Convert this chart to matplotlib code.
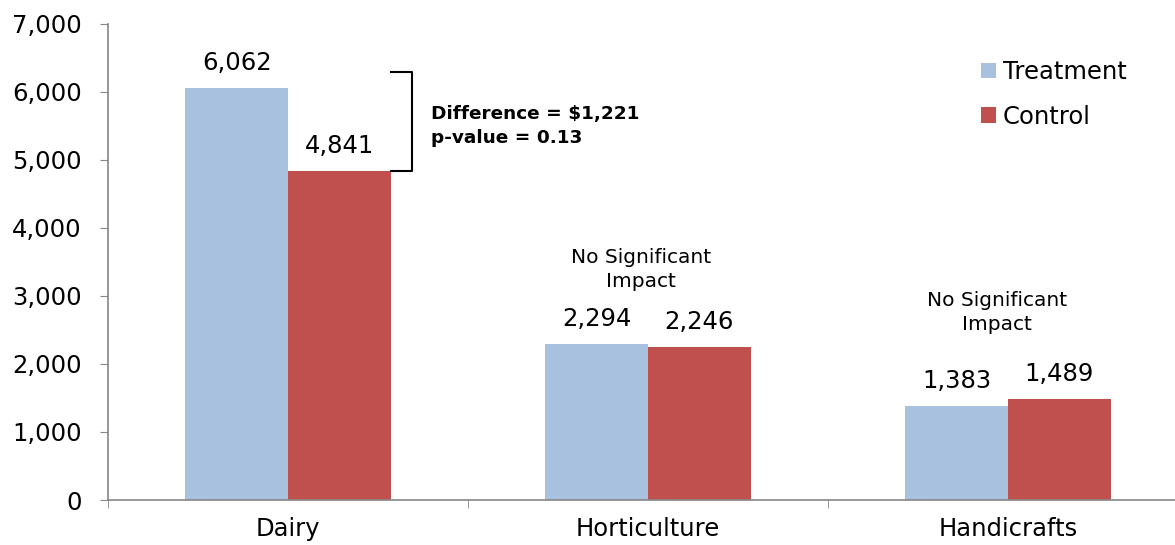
import matplotlib.pyplot as plt
import numpy as np

categories = ["Dairy", "Horticulture", "Handicrafts"]
treatment = [6062, 2294, 1383]
control = [4841, 2246, 1489]
series_names = ["Treatment", "Control"]
y_ticks = [0, 1000, 2000, 3000, 4000, 5000, 6000, 7000]

blue = "#A8C1DE"
red = "#C0504D"
grey = "#868686"

plt.rcParams['font.family'] = ['DejaVu Sans']

fig = plt.figure(figsize=(11.75, 5.45), dpi=100)
ax = fig.add_axes([108 / 1175, 45 / 545, 1080 / 1175, 476 / 545])

x = np.arange(len(categories))
w = 0.285
b1 = ax.bar(x - w / 2, treatment, w, color=blue, label=series_names[0])
b2 = ax.bar(x + w / 2, control, w, color=red, label=series_names[1])

ax.set_xlim(-0.5, 2.5)
ax.set_ylim(0, 7000)
ax.set_yticks(y_ticks)
ax.set_yticklabels([f"{v:,}" for v in y_ticks], fontsize=17.5)
ax.set_xticks(x)
ax.set_xticklabels(categories, fontsize=17.5)
ax.set_xticks(np.arange(-0.5, 3, 1), minor=True)
ax.tick_params(axis='x', which='major', length=0, pad=12)
ax.tick_params(axis='x', which='minor', length=6, color=grey, direction='out')
ax.tick_params(axis='y', length=6, color=grey, direction='out', pad=13)

for s in ["top", "right"]:
    ax.spines[s].set_visible(False)
for s in ["left", "bottom"]:
    ax.spines[s].set_color(grey)
    ax.spines[s].set_linewidth(1.2)

# value labels above bars
for bars, vals in ((b1, treatment), (b2, control)):
    for rect, v in zip(bars, vals):
        ax.text(rect.get_x() + rect.get_width() / 2, v + 370, f"{v:,}",
                ha='center', va='center', fontsize=17.5)

# bracket for dairy difference
bx0 = x[0] + w
bx1 = bx0 + 0.06
ax.plot([bx0, bx1, bx1, bx0], [6290, 6290, control[0], control[0]],
        color='black', lw=1.5, clip_on=False)
ax.text(bx1 + 0.053, 5500, "Difference = $1,221\np-value = 0.13",
        fontsize=13.3, fontweight='bold', ha='left', va='center',
        linespacing=1.4)

ax.text(x[1] - 0.02, 3390, "No Significant\nImpact", fontsize=14.5,
        ha='center', va='center', linespacing=1.35)
ax.text(x[2] - 0.03, 2755, "No Significant\nImpact", fontsize=14.5,
        ha='center', va='center', linespacing=1.35)

ax.legend(loc='center left', bbox_to_anchor=(0.808, 0.852), frameon=False,
          fontsize=17.5, handlelength=0.62, handleheight=0.62,
          handletextpad=0.3, labelspacing=0.85, borderaxespad=0,
          borderpad=0)

fig.savefig("out.png", dpi=100)
